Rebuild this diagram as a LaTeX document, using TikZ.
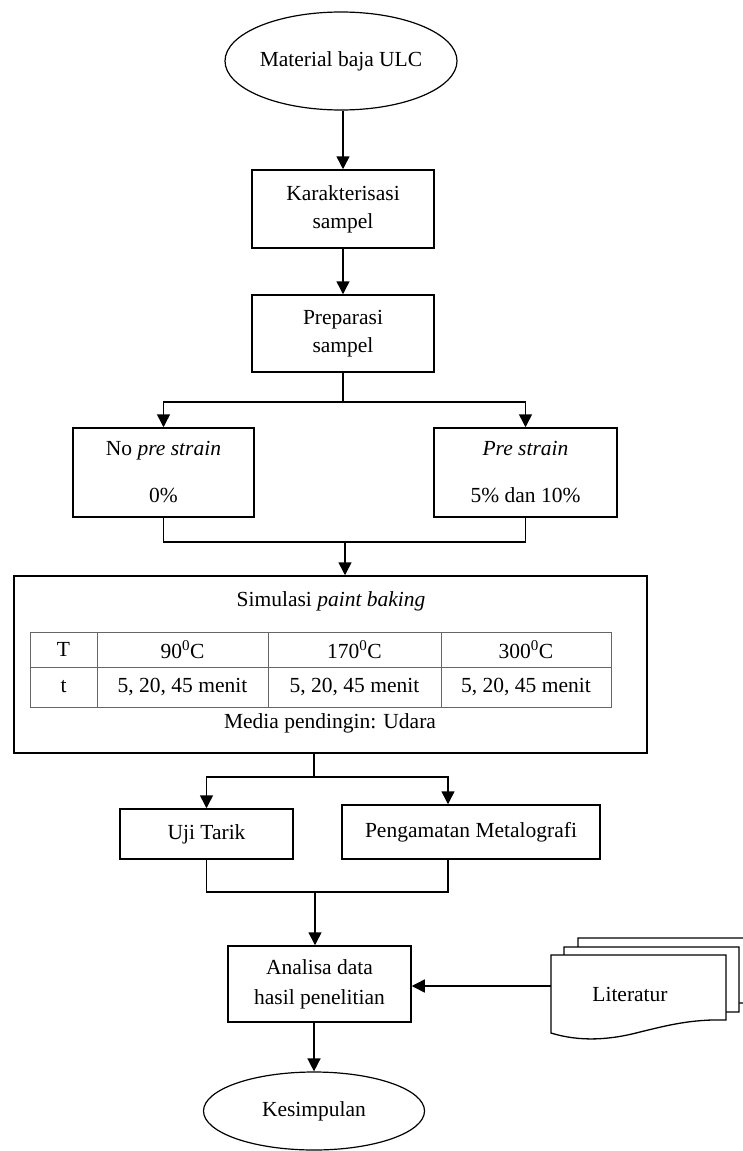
\documentclass[tikz,border=0pt]{standalone}
\usepackage{fontspec}
\setmainfont{Liberation Serif}
\usepackage{tikz}
\usetikzlibrary{arrows.meta,shapes.geometric}

\begin{document}
\begin{tikzpicture}[x=1pt, y=-1pt,
  every node/.style={font=\fontsize{21.5}{28}\selectfont, inner sep=0pt},
  kotak/.style={draw, line width=1.5pt, rectangle, align=center},
  oval/.style={draw, line width=1.2pt, ellipse},
  garis/.style={line width=1.5pt},
  panah/.style={line width=1.5pt, -{Triangle[width=13pt,length=13pt]}},
  tabel/.style={line width=0.8pt, black!60},
  dokumen/.style={draw, fill=white, line width=1.3pt}]
  \clip (0,0) rectangle (743,1151);
  \fill[white] (0,0) rectangle (743,1151);

  \node[oval, minimum width=232, minimum height=98] (mat) at (341,61) {Material baja ULC};
  \node[kotak, minimum width=182, minimum height=78] (kar) at (343,209) {Karakterisasi\\sampel};
  \node[kotak, minimum width=182, minimum height=77] (pre) at (343,333.5) {Preparasi\\sampel};
  \node[kotak, minimum width=181, minimum height=89] (nopre) at (163.5,472.5) {No \textit{pre strain}\\[19pt]0\%};
  \node[kotak, minimum width=183, minimum height=89] (prs) at (525.5,472.5) {\textit{Pre strain}\\[19pt]5\% dan 10\%};

  \node[kotak, minimum width=633, minimum height=177] (sim) at (330.5,664.5) {};
  \node (judul) at (331,601) {Simulasi \textit{paint baking}};
  \draw[tabel] (30,632) rectangle (611,707);
  \draw[tabel] (30,667) -- (611,667);
  \foreach \x in {97,268,441}
    \draw[tabel] (\x,632) -- (\x,707);
  \node (suhu0) at (63.5,649.5) {T};
  \node (waktu0) at (63.5,687) {t};
  \foreach \x/\suhu [count=\i] in {182.5/90, 354.5/170, 526/300} {
    \node (suhu\i) at (\x,649.5) {\suhu\textsuperscript{0}C};
    \node (waktu\i) at (\x,687) {5, 20, 45 menit};
  }
  \node (media) at (330,723) {Media pendingin: Udara};

  \node[kotak, minimum width=173, minimum height=50] (uji) at (206.5,834) {Uji Tarik};
  \node[kotak, minimum width=258, minimum height=54] (peng) at (471,832) {Pengamatan Metalografi};
  \node[kotak, minimum width=183, minimum height=76] (ana) at (319.5,984) {Analisa data\\[2pt]hasil penelitian};
  \node[oval, minimum width=221, minimum height=78] (kes) at (314,1111) {Kesimpulan};

  \foreach \dx/\dy in {27/-17, 13/-8, 0/0}
    \draw[dokumen, shift={(\dx,\dy)}] (551,955) -- (726,955) -- (726,1020)
      .. controls (690,1019) and (665,1026) .. (640,1032)
      .. controls (610,1040) and (580,1042) .. (551,1033) -- cycle;
  \node (lit) at (630,994) {Literatur};
  \coordinate (litin) at (551,986);

  \draw[panah] (mat.south -| kar.north) -- (kar.north);
  \draw[panah] (kar.south) -- (pre.north);
  \draw[garis] (pre.south) -- ++(0,29) coordinate (sp1);
  \draw[panah] (sp1) -| (nopre.north);
  \draw[panah] (sp1) -| (prs.north);
  \coordinate (mg1) at (345,542);
  \draw[garis] (nopre.south) |- (mg1) -| (prs.south);
  \draw[panah] (mg1) -- (mg1 |- sim.north);

  \coordinate (sp2) at (314,777);
  \draw[garis] (sp2 |- sim.south) -- (sp2);
  \draw[panah] (sp2) -| (uji.north);
  \draw[panah] (sp2) -| ([xshift=-23pt]peng.north);
  \coordinate (mg2) at (315,892);
  \draw[garis] (uji.south) |- (mg2) -| ([xshift=-23pt]peng.south);
  \draw[panah] (mg2) -- (mg2 |- ana.north);
  \draw[panah] (ana.south -| kes.north) -- (kes.north);
  \draw[panah] (litin) -- (ana.east |- litin);
\end{tikzpicture}
\end{document}
